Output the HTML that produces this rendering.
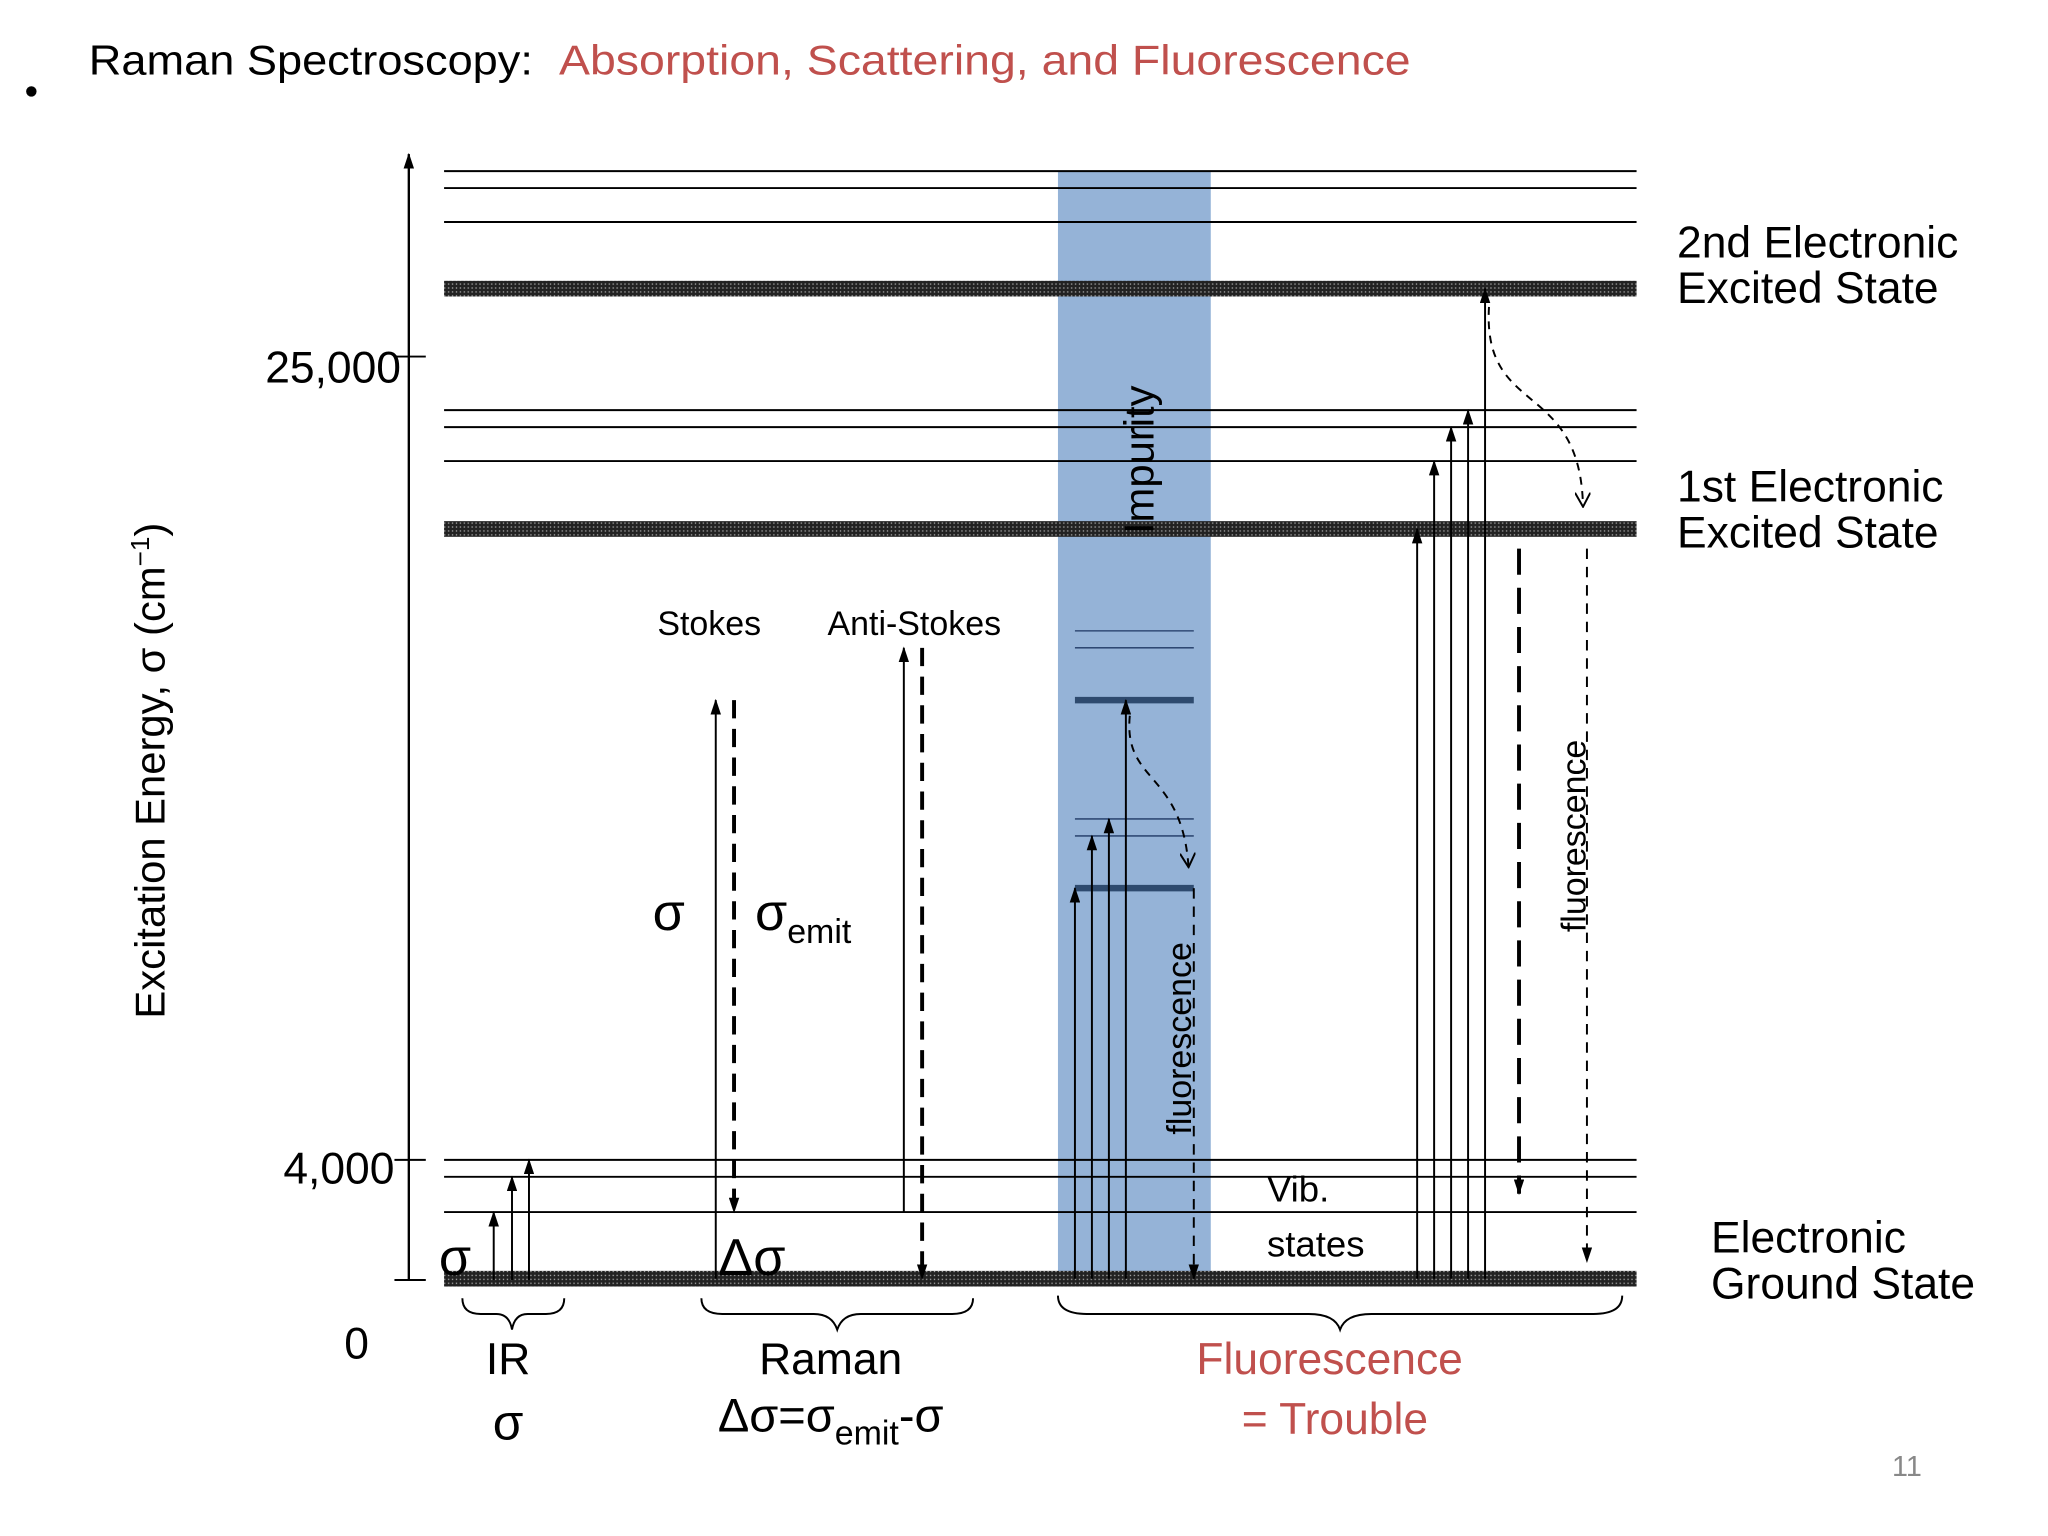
<!DOCTYPE html>
<html><head><meta charset="utf-8"><style>
html,body{margin:0;padding:0;background:#fff}
svg{display:block}
text{font-family:"Liberation Sans","DejaVu Sans",sans-serif}
</style></head><body>
<svg id="c" width="2048" height="1536" viewBox="0 0 1568 1176" preserveAspectRatio="none" xmlns="http://www.w3.org/2000/svg">
<defs>
<pattern id="dots" width="3" height="3" patternUnits="userSpaceOnUse"><rect width="3" height="3" fill="#222"/><rect x="1" y="1" width="1" height="1" fill="#aaa"/></pattern>
<marker id="ah" markerWidth="12" markerHeight="8" refX="11" refY="4" orient="auto" markerUnits="userSpaceOnUse"><path d="M0,0 L12,4 L0,8 Z" fill="#000"/></marker>
<marker id="ad" markerWidth="12" markerHeight="12" refX="11" refY="6" orient="auto" markerUnits="userSpaceOnUse"><path d="M0,0 L11,6 L0,12" fill="none" stroke="#000" stroke-width="1.5"/></marker>
</defs>
<circle cx="24" cy="70" r="4" fill="#000"/>
<text x="68" y="57" font-size="32" fill="#000"><tspan textLength="340" lengthAdjust="spacingAndGlyphs">Raman Spectroscopy:</tspan><tspan x="428" fill="#c0504d" textLength="652" lengthAdjust="spacingAndGlyphs">Absorption, Scattering, and Fluorescence</tspan></text>
<rect x="810" y="131" width="117" height="848" fill="#95b3d7"/>
<g id="levels"></g>
<g id="arrows"></g>
<line x1="313" y1="980" x2="313" y2="118" stroke="#000" stroke-width="1.8" marker-end="url(#ah)"/>
<line x1="302" y1="980" x2="326" y2="980" stroke="#000" stroke-width="1.5"/>
<line x1="302" y1="273" x2="326" y2="273" stroke="#000" stroke-width="1.5"/>
<line x1="302" y1="888" x2="326" y2="888" stroke="#000" stroke-width="1.5"/>
<text x="307" y="293" font-size="34" text-anchor="end">25,000</text>
<text x="302" y="906" font-size="34" text-anchor="end">4,000</text>
<text x="273" y="1040" font-size="34" text-anchor="middle">0</text>
<text transform="translate(126,590) rotate(-90)" font-size="32" text-anchor="middle">Excitation Energy, σ (cm<tspan dy="-12" font-size="20">−1</tspan><tspan dy="12">)</tspan></text>
<text transform="translate(883,352) rotate(-90)" font-size="32" text-anchor="middle">Impurity</text>
<text transform="translate(912,795) rotate(-90)" font-size="26" text-anchor="middle">fluorescence</text>
<text transform="translate(1214,640) rotate(-90)" font-size="26" text-anchor="middle">fluorescence</text>
<g font-size="34">
<text x="1284" y="197">2nd Electronic</text><text x="1284" y="232">Excited State</text>
<text x="1284" y="384">1st Electronic</text><text x="1284" y="419">Excited State</text>
<text x="1310" y="959">Electronic</text><text x="1310" y="994">Ground State</text>
</g>
<text x="543" y="486" font-size="26" text-anchor="middle">Stokes</text>
<text x="700" y="486" font-size="26" text-anchor="middle">Anti-Stokes</text>
<text x="512" y="712" font-size="40" text-anchor="middle">σ</text>
<text x="578" y="712" font-size="40">σ<tspan font-size="26" dy="10">emit</tspan></text>
<text x="550" y="976" font-size="40">Δσ</text>
<text x="336" y="976" font-size="40">σ</text>
<text x="970" y="920" font-size="28">Vib.</text>
<text x="970" y="962" font-size="28">states</text>
<g fill="none" stroke="#000" stroke-width="1.5">
<path d="M354,994 q0,12 14,12 h12 q10,0 12,12 q2,-12 12,-12 h14 q14,0 14,-12"/>
<path d="M537,994 q0,12 16,12 h70 q14,0 18,12 q4,-12 18,-12 h70 q16,0 16,-12"/>
<path d="M810,992 q0,14 22,14 h170 q20,0 24,12 q4,-12 24,-12 h170 q22,0 22,-14"/>
</g>
<text x="389" y="1052" font-size="34" text-anchor="middle">IR</text>
<text x="389" y="1102" font-size="38" text-anchor="middle">σ</text>
<text x="636" y="1052" font-size="34" text-anchor="middle">Raman</text>
<text x="636" y="1096" font-size="36" text-anchor="middle">Δσ=σ<tspan font-size="26" dy="10">emit</tspan><tspan dy="-10">-σ</tspan></text>
<text x="1018" y="1052" font-size="34" text-anchor="middle" fill="#c0504d">Fluorescence</text>
<text x="1022" y="1098" font-size="34" text-anchor="middle" fill="#c0504d">= Trouble</text>
<text x="1460" y="1130" font-size="22" text-anchor="middle" fill="#888">11</text>
</svg>
<script>
const thinLevels=[131,144,170,314,327,353,888,901,928];
const thickLevels=[221,405,979];
const impThin=[483,496,627,640];
const impThick=[536,680];
const NS="http://www.w3.org/2000/svg";
const L=document.getElementById('levels'),A=document.getElementById('arrows');
function mk(tag,at,p){const e=document.createElementNS(NS,tag);for(const k in at)e.setAttribute(k,at[k]);p.appendChild(e);return e;}
thinLevels.forEach(y=>{const e=mk('line',{x1:340,x2:1253,y1:y,y2:y,stroke:'#000','stroke-width':1.5},L);

});
thickLevels.forEach(y=>{const e=mk('rect',{x:340,y:y-6,width:913,height:12,fill:'url(#dots)'},L);

});
impThin.forEach(y=>{const e=mk('line',{x1:823,x2:914,y1:y,y2:y,stroke:'#1f3864','stroke-width':1},L);

});
impThick.forEach(y=>{const e=mk('line',{x1:823,x2:914,y1:y,y2:y,stroke:'#2e4a6e','stroke-width':5},L);

});
const up=[[378,980,928],[392,980,901],[405,980,888],[548,979,536],[692,928,496],[823,979,680],[836,979,640],[849,979,627],[862,979,536],[1085,979,405],[1098,979,353],[1111,979,327],[1124,979,314],[1137,979,221]];
up.forEach(a=>{const e=mk('line',{x1:a[0],y1:a[1],x2:a[0],y2:a[2],stroke:'#000','stroke-width':1.5,'marker-end':'url(#ah)'},A);

});
const down=[[562,536,928,3,'14 8'],[706,496,979,3,'14 8'],[914,680,979,1.5,'8 6'],[1163,420,914,3,'20 10'],[1215,420,966,1.5,'8 6']];
down.forEach(a=>{const e=mk('line',{x1:a[0],y1:a[1],x2:a[0],y2:a[2],stroke:'#000','stroke-width':a[3],'stroke-dasharray':a[4],'marker-end':'url(#ah)'},A);

});
const c1=mk('path',{d:'M865,548 C860,600 905,590 910,664',fill:'none',stroke:'#000','stroke-width':1.5,'stroke-dasharray':'6 5','marker-end':'url(#ad)'},A);


const c2=mk('path',{d:'M1140,235 C1135,320 1210,290 1212,388',fill:'none',stroke:'#000','stroke-width':1.5,'stroke-dasharray':'6 5','marker-end':'url(#ad)'},A);


</script>
</body></html>
